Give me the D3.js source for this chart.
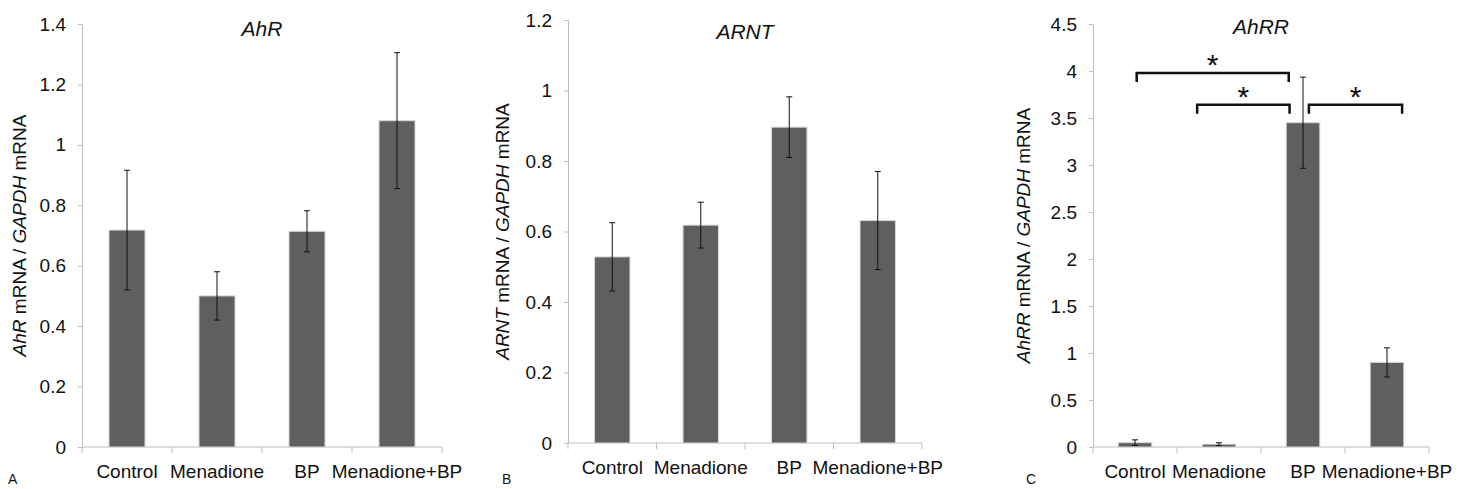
<!DOCTYPE html>
<html>
<head>
<meta charset="utf-8">
<script src="https://cdn.jsdelivr.net/npm/d3@7"></script>
<style>
  body { margin: 0; background: #fff; }
  svg { font-family: "Liberation Sans", Arial, sans-serif; }
</style>
</head>
<body>
<div id="chart"></div>
<script>
// data
var categories = ["Control", "Menadione", "BP", "Menadione+BP"];

var ahrMean = [0.718, 0.50, 0.714, 1.08];
var ahrErr = [0.198, 0.08, 0.068, 0.225];
var ahrTicks = [0, 0.2, 0.4, 0.6, 0.8, 1, 1.2, 1.4];

var arntMean = [0.528, 0.618, 0.896, 0.631];
var arntErr = [0.097, 0.065, 0.086, 0.139];
var arntTicks = [0, 0.2, 0.4, 0.6, 0.8, 1, 1.2];

var ahrrMean = [0.046, 0.03, 3.45, 0.90];
var ahrrErr = [0.03, 0.015, 0.485, 0.155];
var ahrrTicks = [0, 0.5, 1, 1.5, 2, 2.5, 3, 3.5, 4, 4.5];

// significance brackets on AhRR: [from, to, level]
var ahrrSig = [
  ["Control", "BP", 3.98],
  ["Menadione", "BP", 3.64],
  ["BP", "Menadione+BP", 3.64]
];

var svgWidth = 1465;
var svgHeight = 489;

var svg = d3.select("#chart")
  .append("svg")
  .attr("width", svgWidth)
  .attr("height", svgHeight);

var panels = [
  { gene: "AhR", letter: "A", mean: ahrMean, err: ahrErr, ticks: ahrTicks,
    x0: 82, x1: 442, top: 24, bottom: 447, labelX: 20, titleY: 36, letterX: 8 },
  { gene: "ARNT", letter: "B", mean: arntMean, err: arntErr, ticks: arntTicks,
    x0: 568, x1: 922, top: 20, bottom: 443, labelX: 503, titleY: 39, letterX: 502 },
  { gene: "AhRR", letter: "C", mean: ahrrMean, err: ahrrErr, ticks: ahrrTicks,
    x0: 1093, x1: 1429, top: 24, bottom: 447, labelX: 1024, titleY: 34, letterX: 1026,
    sig: ahrrSig }
];

var axisGrey = "#bdbdbd";
var barFill = "#5f5f5f";

panels.forEach(function(p) {
  var g = svg.append("g");
  var rows = categories.map(function(c, i) {
    return { cat: c, mean: p.mean[i], err: p.err[i] };
  });

  var x = d3.scaleBand()
    .domain(categories)
    .range([p.x0, p.x1])
    .paddingInner(0.6)
    .paddingOuter(0.3);
  var step = x.step();

  var y = d3.scaleLinear()
    .domain([0, d3.max(p.ticks)])
    .range([p.bottom, p.top]);

  // y axis
  var yAxis = g.append("g")
    .attr("transform", `translate(${p.x0}, 0)`)
    .call(d3.axisLeft(y).tickValues(p.ticks).tickFormat(d3.format("~g"))
      .tickSizeInner(4).tickSizeOuter(0).tickPadding(12));
  yAxis.selectAll("path, line").attr("stroke", axisGrey);
  yAxis.selectAll("text")
    .attr("fill", "#111")
    .style("font-size", "19px");

  // x axis: baseline, boundary ticks and labels
  g.append("line")
    .attr("x1", p.x0).attr("x2", p.x1)
    .attr("y1", p.bottom).attr("y2", p.bottom)
    .attr("stroke", axisGrey);
  g.selectAll(".bound")
    .data(d3.range(categories.length + 1))
    .enter()
    .append("line")
    .attr("x1", i => p.x0 + i * step).attr("x2", i => p.x0 + i * step)
    .attr("y1", p.bottom).attr("y2", p.bottom + 6)
    .attr("stroke", axisGrey);

  var xAxis = g.append("g")
    .attr("transform", `translate(0, ${p.bottom})`)
    .call(d3.axisBottom(x).tickSize(0).tickPadding(18));
  xAxis.select(".domain").remove();
  xAxis.selectAll("text")
    .attr("fill", "#111")
    .style("font-size", "19px");

  // bars
  g.selectAll("rect")
    .data(rows)
    .enter()
    .append("rect")
    .attr("x", d => x(d.cat))
    .attr("y", d => y(d.mean))
    .attr("width", x.bandwidth())
    .attr("height", d => y(0) - y(d.mean))
    .attr("fill", barFill)
    .attr("stroke", "#d8d8d8")
    .attr("stroke-width", 1);

  // error bars
  var cx = d => x(d.cat) + x.bandwidth() / 2;
  var eb = g.selectAll(".err")
    .data(rows)
    .enter()
    .append("g")
    .attr("stroke", "#111")
    .attr("stroke-width", 1);
  eb.append("line")
    .attr("x1", cx).attr("x2", cx)
    .attr("y1", d => y(d.mean + d.err)).attr("y2", d => y(Math.max(0, d.mean - d.err)));
  eb.append("line")
    .attr("x1", d => cx(d) - 3).attr("x2", d => cx(d) + 3)
    .attr("y1", d => y(d.mean + d.err)).attr("y2", d => y(d.mean + d.err));
  eb.append("line")
    .attr("x1", d => cx(d) - 3).attr("x2", d => cx(d) + 3)
    .attr("y1", d => y(Math.max(0, d.mean - d.err))).attr("y2", d => y(Math.max(0, d.mean - d.err)));

  // title
  g.append("text")
    .attr("x", (p.x0 + p.x1) / 2)
    .attr("y", p.titleY)
    .attr("text-anchor", "middle")
    .style("font-size", "21px")
    .style("font-style", "italic")
    .attr("fill", "#111")
    .text(p.gene);

  // y label
  var yl = g.append("text")
    .attr("transform", `translate(${p.labelX + 6}, ${(p.top + p.bottom) / 2}) rotate(-90)`)
    .attr("text-anchor", "middle")
    .style("font-size", "19px")
    .attr("fill", "#111");
  yl.append("tspan").style("font-style", "italic").text(p.gene);
  yl.append("tspan").text(" mRNA / ");
  yl.append("tspan").style("font-style", "italic").text("GAPDH");
  yl.append("tspan").text(" mRNA");

  // panel letter at the bottom edge
  g.append("text")
    .attr("x", p.letterX)
    .attr("y", 484)
    .style("font-size", "14px")
    .attr("fill", "#111")
    .text(p.letter);

  // significance brackets
  if (p.sig) {
    var offs = [[0.02, -0.17], [-0.26, -0.16], [0.07, 0.18]];
    p.sig.forEach(function(s, i) {
      var xa = x(s[0]) + x.bandwidth() / 2 + offs[i][0] * step;
      var xb = x(s[1]) + x.bandwidth() / 2 + offs[i][1] * step;
      var yy = y(s[2]);
      g.append("path")
        .attr("d", `M${xa},${yy + 9}V${yy}H${xb}V${yy + 9}`)
        .attr("fill", "none")
        .attr("stroke", "#111")
        .attr("stroke-width", 2.5);
      g.append("text")
        .attr("x", (xa + xb) / 2)
        .attr("y", yy + 2)
        .attr("text-anchor", "middle")
        .style("font-size", "30px")
        .attr("fill", "#111")
        .text("*");
    });
  }
});
</script>
</body>
</html>
